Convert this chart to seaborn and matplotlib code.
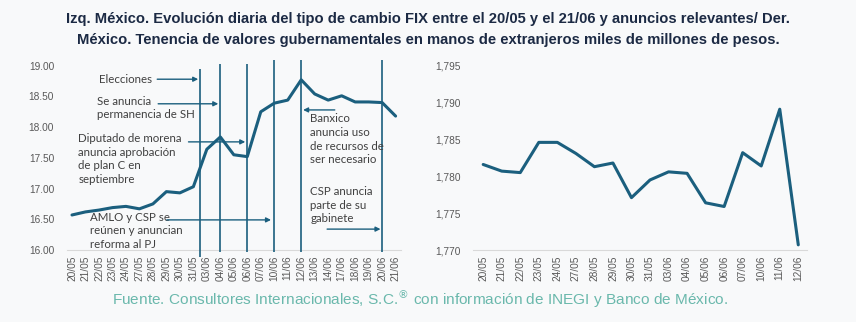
import matplotlib
matplotlib.use("Agg")
import matplotlib.pyplot as plt
import seaborn as sns
import numpy as np
import pandas as pd

# --- Tipo de cambio FIX (izquierda) ---
fix_dates = ["20/05", "21/05", "22/05", "23/05", "24/05", "27/05", "28/05", "29/05",
             "30/05", "31/05", "03/06", "04/06", "05/06", "06/06", "07/06", "10/06",
             "11/06", "12/06", "13/06", "14/06", "17/06", "18/06", "19/06", "20/06", "21/06"]
fix_values = [16.57, 16.62, 16.65, 16.69, 16.71, 16.67, 16.75, 16.95, 16.93, 17.03,
              17.64, 17.84, 17.55, 17.52, 18.25, 18.39, 18.44, 18.77, 18.54, 18.44,
              18.51, 18.41, 18.41, 18.40, 18.18]

# --- Anuncios relevantes: posición en el eje de fechas ---
event_positions = [9.5, 11, 13, 15, 17, 23]
event_labels = ["Elecciones",
                "Se anuncia\npermanencia de SH",
                "Diputado de morena\nanuncia aprobación\nde plan C en\nseptiembre",
                "AMLO y CSP se\nreúnen y anuncian\nreforma al PJ",
                "Banxico\nanuncia uso\nde recursos de\nser necesario",
                "CSP anuncia\nparte de su\ngabinete"]

# --- Tenencia de extranjeros (derecha) ---
hold_dates = ["20/05", "21/05", "22/05", "23/05", "24/05", "27/05", "28/05", "29/05",
              "30/05", "31/05", "03/06", "04/06", "05/06", "06/06", "07/06", "10/06",
              "11/06", "12/06"]
hold_values = [1781.6, 1780.7, 1780.5, 1784.6, 1784.6, 1783.1, 1781.3, 1781.8, 1777.1,
               1779.5, 1780.6, 1780.4, 1776.4, 1775.9, 1783.2, 1781.4, 1789.1, 1770.7]

LINE = "#1b5f7e"
TXT = "#404040"
TICK = "#595959"
BG = "#f8f9fa"

sns.set_theme(style="white")
plt.rcParams["font.family"] = ["Liberation Sans", "DejaVu Sans"]

W, H = 856, 322
fig = plt.figure(figsize=(W / 100, H / 100), dpi=100, facecolor=BG)


def px_axes(left, right, top, bottom):
    return fig.add_axes([left / W, 1 - bottom / H, (right - left) / W, (bottom - top) / H])


ax1 = px_axes(66.6, 401, 65.7, 250)
ax2 = px_axes(473, 807, 65.7, 250)

df1 = pd.DataFrame({"pos": np.arange(len(fix_dates)), "fix": fix_values})
df2 = pd.DataFrame({"pos": np.arange(len(hold_dates)), "val": hold_values})

sns.lineplot(data=df1, x="pos", y="fix", ax=ax1, color=LINE, lw=2.2)
sns.lineplot(data=df2, x="pos", y="val", ax=ax2, color=LINE, lw=2.2)

for ax in (ax1, ax2):
    ax.set_facecolor(BG)
    ax.set_xlabel("")
    ax.set_ylabel("")
    for s in ("top", "right", "left"):
        ax.spines[s].set_visible(False)
    ax.spines["bottom"].set_color("#d9d9d9")
    ax.spines["bottom"].set_linewidth(0.8)
    ax.tick_params(axis="both", length=0, colors=TICK, labelsize=7.3)
    ax.tick_params(axis="y", pad=9)
    ax.tick_params(axis="x", pad=4)

# Eje izquierdo
ax1.set_xlim(-0.4, len(fix_dates) - 0.6)
ax1.set_ylim(16, 19)
ax1.set_yticks(np.arange(16, 19.01, 0.5))
ax1.set_yticklabels([f"{v:.2f}" for v in np.arange(16, 19.01, 0.5)])
ax1.set_xticks(np.arange(len(fix_dates)))
ax1.set_xticklabels(fix_dates, rotation=90)

# Eje derecho
ax2.set_xlim(-0.55, len(hold_dates) - 0.53)
ax2.set_ylim(1770, 1795)
ax2.set_yticks(np.arange(1770, 1795.1, 5))
ax2.set_yticklabels([f"{int(v):,}" for v in np.arange(1770, 1795.1, 5)])
ax2.set_xticks(np.arange(len(hold_dates)))
ax2.set_xticklabels(hold_dates, rotation=90)

# Líneas verticales de los anuncios
line_tops = [18.95, 19.03, 19.03, 19.09, 19.09, 19.09]
line_bottoms = [15.89, 15.97, 15.97, 15.97, 15.97, 15.97]
for x, y0, y1 in zip(event_positions, line_bottoms, line_tops):
    ax1.vlines(x, y0, y1, color=LINE, lw=1.2, clip_on=False, zorder=3)

# Textos y flechas: (x texto, y texto, x inicio, x fin, y flecha)
layout = [
    (2.0, 18.78, 6.32, 9.36, 18.78),
    (1.86, 18.31, 6.39, 10.85, 18.38),
    (0.47, 17.48, 8.64, 12.85, 17.76),
    (1.34, 16.31, 7.03, 14.76, 16.49),
    (17.68, 17.80, 19.49, 17.14, 18.28),
    (17.68, 16.73, 18.92, 22.88, 16.34),
]
for label, (tx, ty, xa, xb, ya) in zip(event_labels, layout):
    ax1.text(tx, ty, label, fontsize=8.3, color=TXT, ha="left", va="center",
             linespacing=1.3, family=["Lato", "DejaVu Sans"], zorder=4)
    ax1.annotate("", xy=(xb, ya), xytext=(xa, ya),
                 arrowprops=dict(arrowstyle="-|>", color=LINE, lw=1.0,
                                 mutation_scale=7, shrinkA=0, shrinkB=0),
                 zorder=4)

title_kw = dict(ha="center", va="center", fontsize=10.6, fontweight="bold",
                color="#1c2a44", family=["Liberation Sans", "DejaVu Sans"])
fig.text(0.5, 1 - 19 / H,
         "Izq. México. Evolución diaria del tipo de cambio FIX entre el 20/05 y el 21/06 y anuncios relevantes/ Der.",
         **title_kw)
fig.text(0.5, 1 - 40 / H,
         "México. Tenencia de valores gubernamentales en manos de extranjeros miles de millones de pesos.",
         **title_kw)
fig.text(420.5 / W, 1 - 299 / H,
         "Fuente. Consultores Internacionales, S.C.$^{®}$ con información de INEGI y Banco de México.",
         ha="center", va="center", fontsize=11.1, color="#6ab8ac")

fig.savefig("out.png", dpi=100, facecolor=BG)
